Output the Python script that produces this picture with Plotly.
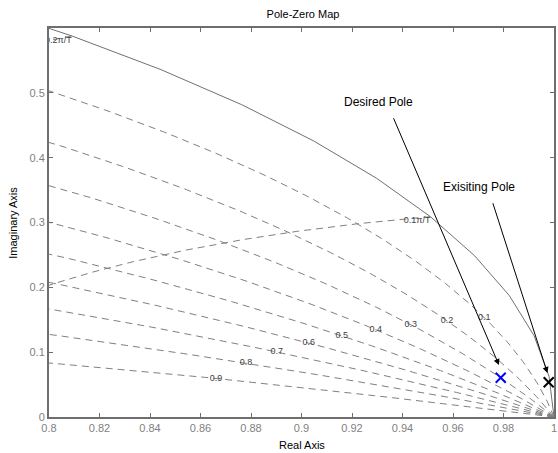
import numpy as np
import plotly.graph_objects as go

# ---- data ----
zeta_values = [0.1, 0.2, 0.3, 0.4, 0.5, 0.6, 0.7, 0.8, 0.9]
zeta_labels = ["0.1", "0.2", "0.3", "0.4", "0.5", "0.6", "0.7", "0.8", "0.9"]
wn_values = [0.1, 0.2, 0.3, 0.4, 0.5, 0.6, 0.7, 0.8, 0.9, 1.0]   # multiples of pi/T
wn_labels = ["0.1π/T", "0.2π/T", "0.3π/T", "0.4π/T", "0.5π/T",
             "0.6π/T", "0.7π/T", "0.8π/T", "0.9π/T", "π/T"]
desired_pole = (0.9789, 0.0606)
existing_pole = (0.9979, 0.0535)
x_ticks = [0.8, 0.82, 0.84, 0.86, 0.88, 0.9, 0.92, 0.94, 0.96, 0.98, 1.0]
x_tick_text = ["0.8", "0.82", "0.84", "0.86", "0.88", "0.9", "0.92", "0.94", "0.96", "0.98", "1"]
y_ticks = [0, 0.1, 0.2, 0.3, 0.4, 0.5]
y_tick_text = ["0", "0.1", "0.2", "0.3", "0.4", "0.5"]

X_RANGE = [0.8, 1.0]
Y_RANGE = [0, 0.6]

FONT = "Arial, Liberation Sans, sans-serif"
GRID = "#808080"
FRAME = "#6e6e6e"

fig = go.Figure()

# unit circle (polygon, 100 segments)
ang = 2 * np.pi * np.arange(0, 101) / 100
fig.add_trace(go.Scatter(x=np.cos(ang), y=np.sin(ang), mode="lines",
                         line=dict(color="#707070", width=1), hoverinfo="skip"))

# constant damping lines
for z in zeta_values:
    m = np.tan(np.arcsin(z))
    th = np.linspace(0, np.pi, 800)
    zz = np.exp(th * (-m + 1j))
    fig.add_trace(go.Scatter(x=zz.real, y=zz.imag, mode="lines",
                             line=dict(color=GRID, width=1, dash="7px,5px"),
                             hoverinfo="skip"))

# constant natural-frequency curves
for w in wn_values:
    zt = np.linspace(0, 1, 300)
    zz = np.exp(w * np.pi * (-zt + 1j * np.sqrt(1 - zt ** 2)))
    fig.add_trace(go.Scatter(x=zz.real, y=zz.imag, mode="lines",
                             line=dict(color=GRID, width=1, dash="7px,5px"),
                             hoverinfo="skip"))

# damping labels (at wn*T = 0.05*pi)
lx, ly = [], []
for z in zeta_values:
    p = np.exp(0.05 * np.pi * (-z + 1j * np.sqrt(1 - z ** 2)))
    lx.append(p.real)
    ly.append(p.imag)
fig.add_trace(go.Scatter(x=lx, y=ly, mode="text", text=zeta_labels,
                         textposition="middle center",
                         textfont=dict(family=FONT, size=9, color="#404040"),
                         cliponaxis=True, hoverinfo="skip"))

# natural frequency labels (at zeta = 0), only those whose anchor lies near the visible area
wx, wy, wt = [], [], []
for w, lab in zip(wn_values, wn_labels):
    px, py = np.cos(w * np.pi), np.sin(w * np.pi)
    if px > X_RANGE[0] - 0.01 and py < Y_RANGE[1]:
        wx.append(px)
        wy.append(py)
        wt.append(lab)
fig.add_trace(go.Scatter(x=wx, y=wy, mode="text", text=wt,
                         textposition="bottom left",
                         textfont=dict(family=FONT, size=9, color="#404040"),
                         cliponaxis=True, hoverinfo="skip"))

# poles
fig.add_trace(go.Scatter(x=[desired_pole[0]], y=[desired_pole[1]], mode="markers",
                         marker=dict(symbol="x-thin", size=10, line=dict(color="#0000ff", width=2)),
                         hoverinfo="skip"))
fig.add_trace(go.Scatter(x=[existing_pole[0]], y=[existing_pole[1]], mode="markers",
                         marker=dict(symbol="x-thin", size=10, line=dict(color="#000000", width=2)),
                         hoverinfo="skip"))

annotations = [
    dict(x=0.9782, y=0.0802, ax=0.9362, ay=0.4632, xref="x", yref="y", axref="x", ayref="y",
         showarrow=True, arrowhead=2, arrowsize=1.2, arrowwidth=1, arrowcolor="black",
         standoff=0, startstandoff=0, text=""),
    dict(x=0.9974, y=0.0679, ax=0.9756, ay=0.3321, xref="x", yref="y", axref="x", ayref="y",
         showarrow=True, arrowhead=2, arrowsize=1.2, arrowwidth=1, arrowcolor="black",
         standoff=0, startstandoff=0, text=""),
    dict(x=0.9303, y=0.4863, xref="x", yref="y", text="Desired Pole", showarrow=False,
         font=dict(family=FONT, size=12, color="black")),
    dict(x=0.9704, y=0.3543, xref="x", yref="y", text="Exisiting Pole", showarrow=False,
         font=dict(family=FONT, size=12, color="black")),
    dict(x=0.5, y=-0.071, xref="paper", yref="paper", text="Real Axis", showarrow=False,
         font=dict(family=FONT, size=11, color="black"), yanchor="middle"),
    dict(x=-0.0728, y=0.5, xref="paper", yref="paper", text="Imaginary Axis", showarrow=False,
         textangle=-90, font=dict(family=FONT, size=11, color="black"), xanchor="center"),
]

fig.update_layout(
    width=558, height=453,
    margin=dict(l=49, r=1, t=28, b=36),
    paper_bgcolor="white", plot_bgcolor="white",
    showlegend=False,
    title=dict(text="Pole-Zero Map", x=303 / 558, xanchor="center",
               y=1 - 14 / 453, yanchor="middle", yref="container",
               font=dict(family=FONT, size=11, color="black")),
    annotations=annotations,
    xaxis=dict(range=X_RANGE, tickvals=x_ticks, ticktext=x_tick_text,
               showgrid=False, zeroline=False, ticks="inside", ticklen=4,
               tickcolor=FRAME, showline=True, linecolor=FRAME, linewidth=2,
               mirror="ticks", ticklabeloverflow="allow",
               tickfont=dict(family=FONT, size=11, color="#7f7f7f")),
    yaxis=dict(range=Y_RANGE, tickvals=y_ticks, ticktext=y_tick_text,
               showgrid=False, zeroline=False, ticks="inside", ticklen=4,
               tickcolor=FRAME, showline=True, linecolor=FRAME, linewidth=2,
               mirror="ticks", ticklabeloverflow="allow",
               tickfont=dict(family=FONT, size=11, color="#7f7f7f")),
)

fig.write_html("out.html")
